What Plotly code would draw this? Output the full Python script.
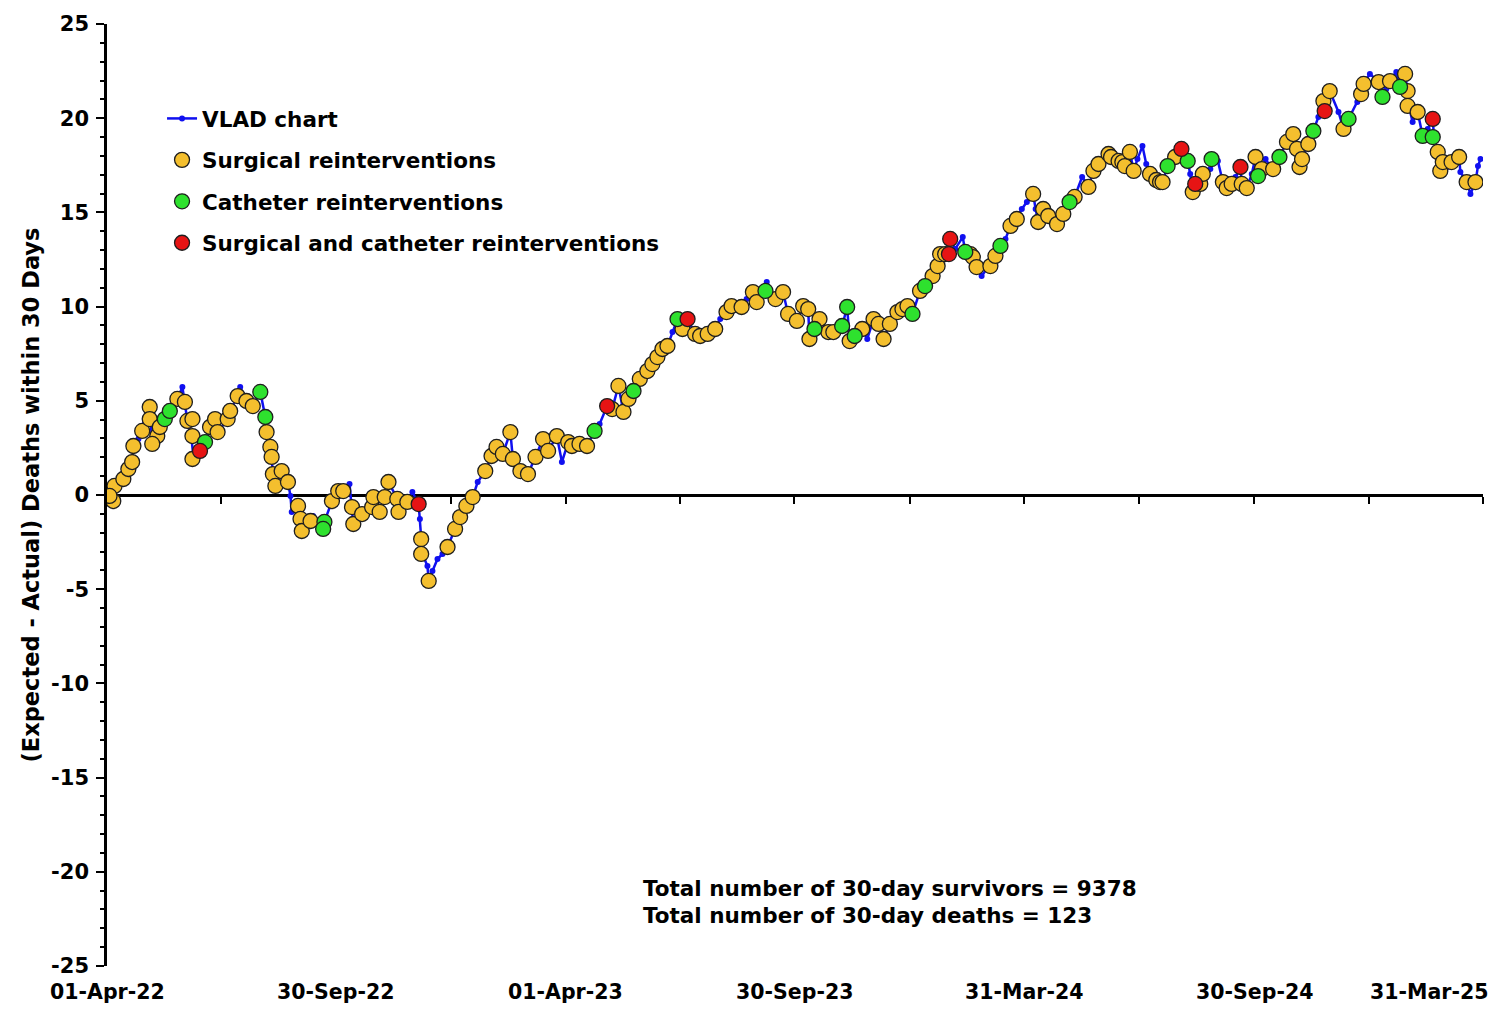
import pandas as pd
import plotly.graph_objects as go

# ---------------- data ----------------
START = "2022-04-01"

# VLAD curve: days since 01-Apr-22, cumulative (expected - actual) deaths
vlad_day = [0, 2, 5, 6, 9, 13, 17, 20, 21, 25, 28, 30, 34, 36, 40, 42, 46, 50, 56, 60,
            62, 64, 67, 69, 74, 78, 82, 86, 88, 96, 98, 104, 106, 111, 116, 122, 126, 127, 130, 131,
            132, 134, 139, 144, 146, 147, 152, 154, 155, 162, 164, 172, 173, 179, 184, 188, 193, 195, 196, 203,
            211, 212, 217, 221, 224, 231, 232, 239, 243, 248, 249, 250, 251, 255, 256, 259, 263, 267, 271, 277,
            281, 286, 291, 295, 301, 306, 310, 315, 321, 323, 329, 335, 341, 347, 351, 358, 362, 367, 370, 376,
            382, 388, 392, 398, 402, 407, 411, 415, 419, 424, 430, 434, 438, 442, 446, 450, 454, 458, 462, 468,
            472, 478, 484, 488, 493, 497, 505, 509, 514, 517, 524, 525, 532, 538, 542, 549, 554, 558, 559, 563,
            567, 574, 578, 585, 589, 591, 595, 601, 605, 610, 614, 618, 623, 629, 633, 637, 641, 647, 651, 657,
            661, 663, 667, 670, 671, 675, 681, 683, 687, 689, 692, 696, 700, 703, 707, 711, 715, 719, 724, 728,
            732, 737, 739, 741, 745, 749, 753, 756, 761, 765, 766, 770, 776, 781, 785, 789, 793, 797, 799, 805,
            808, 810, 814, 817, 820, 824, 827, 830, 835, 838, 840, 844, 847, 850, 855, 858, 860, 862, 864, 866,
            870, 872, 878, 879, 884, 888, 891, 895, 898, 902, 903, 907, 911, 914, 916, 919, 922, 926, 928, 933,
            939, 944, 947, 949, 951, 956, 960, 964, 968, 969, 973, 980, 984, 988, 995, 998, 1000, 1005, 1012, 1015,
            1018, 1021, 1026, 1029, 1033, 1035, 1036, 1039, 1043, 1047, 1051, 1055, 1056, 1059, 1061, 1063, 1067, 1070, 1076, 1077,
            1082, 1085, 1089, 1091, 1093]
vlad_value = [0.00, -0.21, 0.32, 0.48, 0.74, 0.85, 1.38, 1.75, 2.60, 2.97, 3.40, 3.77, 4.67, 2.71, 3.13, 3.61, 4.03, 4.46, 5.10, 5.73,
              4.94, 3.93, 3.13, 1.91, 2.34, 2.81, 3.61, 4.03, 3.34, 4.03, 4.46, 5.25, 5.73, 4.99, 4.72, 5.47, 4.14, 3.34, 2.55, 2.02,
              1.11, 0.48, 1.27, 0.69, -0.05, -0.90, -0.58, -1.27, -1.91, -1.38, -1.11, -1.80, -1.43, -0.32, 0.21, 0.21, 0.58, -0.64, -1.54, -1.01,
              -0.64, -0.11, -0.90, -0.11, 0.69, -0.21, -0.90, -0.37, 0.16, -0.48, -1.27, -2.34, -3.13, -3.77, -4.56, -4.03, -3.40, -3.13, -2.76, -1.80,
              -1.17, -0.58, -0.11, 0.69, 1.27, 2.07, 2.55, 2.18, 3.34, 1.91, 1.27, 1.11, 2.02, 2.97, 2.34, 3.13, 1.75, 2.81, 2.60, 2.71,
              2.60, 3.40, 3.77, 4.72, 4.56, 5.79, 4.41, 5.10, 5.52, 6.16, 6.58, 6.95, 7.32, 7.75, 7.91, 8.65, 9.34, 8.81, 9.34, 8.55,
              8.44, 8.55, 8.81, 9.34, 9.71, 10.03, 9.98, 10.40, 10.77, 10.24, 10.83, 11.31, 10.40, 10.77, 9.61, 9.24, 10.03, 9.87, 8.28, 8.81,
              9.34, 8.65, 8.65, 8.97, 9.98, 8.17, 8.44, 8.81, 8.28, 9.34, 9.08, 8.28, 9.08, 9.71, 9.87, 10.03, 9.61, 10.83, 11.09, 11.62,
              12.15, 12.79, 12.79, 12.79, 13.59, 13.06, 13.69, 12.90, 12.79, 12.63, 12.10, 11.62, 12.00, 12.15, 12.69, 13.22, 13.59, 14.28, 14.65, 15.18,
              15.55, 15.98, 15.18, 14.49, 15.18, 14.81, 14.65, 14.38, 14.92, 15.45, 15.55, 15.82, 16.88, 16.35, 17.20, 17.57, 17.83, 18.10, 17.94, 17.73,
              17.67, 17.46, 18.21, 17.20, 17.83, 18.52, 17.57, 17.04, 16.72, 16.61, 16.61, 17.46, 17.46, 17.94, 18.37, 18.26, 17.73, 17.04, 16.08, 16.51,
              16.51, 17.04, 17.30, 17.83, 17.73, 16.61, 16.29, 16.51, 16.88, 17.41, 16.51, 16.29, 17.04, 17.94, 16.93, 17.30, 17.83, 17.41, 17.30, 17.94,
              18.74, 19.16, 18.37, 17.41, 17.83, 18.63, 19.32, 20.06, 20.91, 20.38, 21.44, 20.33, 19.43, 19.96, 20.86, 21.28, 21.82, 22.35, 21.92, 21.13,
              21.55, 21.97, 22.45, 21.66, 22.35, 21.44, 20.65, 19.80, 20.33, 19.06, 19.43, 19.96, 19.00, 18.21, 17.20, 17.67, 17.41, 17.67, 17.94, 17.14,
              16.61, 15.98, 16.61, 17.46, 17.83]

# Surgical reinterventions
surg_day = [5, 6, 2, 13, 17, 20, 21, 28, 34, 34, 40, 36, 42, 56, 62, 64, 68, 68, 68, 82,
            86, 88, 96, 98, 104, 111, 116, 127, 130, 131, 132, 139, 134, 144, 152, 154, 155, 162, 179, 184,
            188, 195, 196, 203, 211, 212, 217, 221, 224, 231, 232, 239, 250, 250, 256, 271, 277, 281, 286, 291,
            301, 306, 310, 315, 321, 323, 329, 335, 341, 347, 351, 358, 367, 370, 376, 382, 402, 407, 411, 415,
            424, 430, 434, 438, 442, 446, 458, 468, 472, 478, 484, 493, 497, 505, 514, 517, 532, 538, 542, 549,
            554, 558, 559, 567, 574, 578, 591, 601, 610, 614, 618, 623, 629, 633, 637, 647, 657, 661, 663, 667,
            687, 689, 692, 703, 707, 719, 724, 737, 741, 745, 749, 756, 761, 770, 781, 785, 789, 797, 799, 805,
            808, 810, 814, 817, 830, 835, 838, 840, 850, 864, 870, 872, 888, 891, 895, 903, 907, 914, 919, 928,
            939, 944, 947, 949, 951, 956, 968, 973, 984, 998, 1000, 1012, 1021, 1033, 1035, 1035, 1043, 1059, 1061, 1063,
            1070, 1076, 1082, 1089]
surg_value = [-0.32, 0.48, -0.05, 0.85, 1.38, 1.75, 2.60, 3.40, 4.67, 4.03, 3.13, 2.71, 3.61, 5.10, 4.94, 3.93, 4.03, 3.13, 1.91, 3.61,
              4.03, 3.34, 4.03, 4.46, 5.25, 4.99, 4.72, 3.34, 2.55, 2.02, 1.11, 1.27, 0.48, 0.69, -0.58, -1.27, -1.91, -1.38, -0.32, 0.21,
              0.21, -0.64, -1.54, -1.01, -0.64, -0.11, -0.90, -0.11, 0.69, -0.21, -0.90, -0.37, -2.34, -3.13, -4.56, -2.76, -1.80, -1.17, -0.58, -0.11,
              1.27, 2.07, 2.55, 2.18, 3.34, 1.91, 1.27, 1.11, 2.02, 2.97, 2.34, 3.13, 2.81, 2.60, 2.71, 2.60, 4.56, 5.79, 4.41, 5.10,
              6.16, 6.58, 6.95, 7.32, 7.75, 7.91, 8.81, 8.55, 8.44, 8.55, 8.81, 9.71, 10.03, 9.98, 10.77, 10.24, 10.40, 10.77, 9.61, 9.24,
              10.03, 9.87, 8.28, 9.34, 8.65, 8.65, 8.17, 8.81, 9.34, 9.08, 8.28, 9.08, 9.71, 9.87, 10.03, 10.83, 11.62, 12.15, 12.79, 12.79,
              12.79, 12.63, 12.10, 12.15, 12.69, 14.28, 14.65, 15.98, 14.49, 15.18, 14.81, 14.38, 14.92, 15.82, 16.35, 17.20, 17.57, 18.10, 17.94, 17.73,
              17.67, 17.46, 18.21, 17.20, 17.04, 16.72, 16.61, 16.61, 17.94, 16.08, 16.51, 17.04, 16.61, 16.29, 16.51, 16.51, 16.29, 17.94, 17.30, 17.30,
              18.74, 19.16, 18.37, 17.41, 17.83, 18.63, 20.91, 21.44, 19.43, 21.28, 21.82, 21.92, 21.97, 22.35, 21.44, 20.65, 20.33, 18.21, 17.20, 17.67,
              17.67, 17.94, 16.61, 16.61]

# Catheter reinterventions
cath_day = [46, 50, 78, 122, 126, 173, 172, 388, 419, 454, 524, 563, 585, 589, 595, 641, 651, 683, 711, 766,
            844, 860, 879, 916, 933, 960, 988, 1015, 1029, 1047, 1055]
cath_value = [4.03, 4.46, 2.81, 5.47, 4.14, -1.43, -1.80, 3.40, 5.52, 9.34, 10.83, 8.81, 8.97, 9.98, 8.44, 9.61, 11.09, 12.90, 13.22, 15.55,
              17.46, 17.73, 17.83, 16.93, 17.94, 19.32, 19.96, 21.13, 21.66, 19.06, 19.00]

# Surgical and catheter reinterventions
both_day = [74, 248, 398, 462, 670, 671, 855, 866, 902, 969, 1055]
both_value = [2.34, -0.48, 4.72, 9.34, 12.79, 13.59, 18.37, 16.51, 17.41, 20.38, 19.96]

# axis ticks / labels
x_tick_days = [0, 91, 182, 274, 365, 456, 547, 639, 730, 821, 913, 1004, 1095]
x_label_days = [0, 182, 365, 547, 730, 913, 1095]
x_labels = ["01-Apr-22", "30-Sep-22", "01-Apr-23", "30-Sep-23", "31-Mar-24", "30-Sep-24", "31-Mar-25"]
y_tick_values = [-25, -20, -15, -10, -5, 0, 5, 10, 15, 20, 25]
y_tick_text = ["-25", "-20", "-15", "-10", "-5", "0", "5", "10", "15", "20", "25"]

survivors = 9378
deaths = 123

# ---------------- helpers ----------------
t0 = pd.Timestamp(START)


def to_dates(days):
    return [t0 + pd.Timedelta(days=int(d)) for d in days]


FONT = "DejaVu Sans"
BLUE = "#1010F0"
YELLOW = "#F4BF2E"
GREEN = "#2EE12E"
RED = "#E61414"
EDGE = "#1E1E1E"

fig = go.Figure()

fig.add_trace(go.Scatter(
    x=to_dates(vlad_day), y=vlad_value, mode="lines+markers", name="VLAD chart",
    line=dict(color=BLUE, width=2.5), marker=dict(color=BLUE, size=6),
    legendgroup="a"))

for name, days, vals, col, grp in [
        ("Surgical reinterventions", surg_day, surg_value, YELLOW, "b"),
        ("Catheter reinterventions", cath_day, cath_value, GREEN, "c"),
        ("Surgical and catheter reinterventions", both_day, both_value, RED, "d")]:
    fig.add_trace(go.Scatter(
        x=to_dates(days), y=vals, mode="markers", name=name, legendgroup=grp,
        marker=dict(color=col, size=15, line=dict(color=EDGE, width=1.3))))

# x tick labels along the bottom edge of the plot
for d, lab in zip(x_label_days, x_labels):
    last = d == x_label_days[-1]
    fig.add_annotation(
        x=to_dates([d])[0], xref="x", y=-0.0424, yref="paper",
        text=lab, showarrow=False,
        xanchor="right" if last else "center", yanchor="bottom",
        xshift=7 if last else 0,
        font=dict(family=FONT, size=20.5, color="black", weight="bold"))

for i, line in enumerate([f"Total number of 30-day survivors = {survivors}",
                          f"Total number of 30-day deaths = {deaths}"]):
    fig.add_annotation(
        x=0.388, xref="paper", y=0.0828 - i * 0.0297, yref="paper",
        text=line, showarrow=False, xanchor="left", yanchor="middle",
        font=dict(family=FONT, size=21.5, color="black", weight="bold"))

fig.update_layout(
    width=1483, height=998,
    margin=dict(l=99, r=8, t=16, b=40),
    paper_bgcolor="white", plot_bgcolor="white",
    showlegend=True,
    legend=dict(x=0.040, y=0.9215, xanchor="left", yanchor="top",
                bgcolor="rgba(0,0,0,0)", tracegroupgap=10.5,
                font=dict(family=FONT, size=21.5, color="black", weight="bold")),
    xaxis=dict(
        type="date",
        range=to_dates([x_tick_days[0], x_tick_days[-1]]),
        anchor="free", position=0.5,
        showgrid=False, zeroline=False,
        showline=True, linecolor="black", linewidth=3,
        tickmode="array", tickvals=to_dates(x_tick_days),
        ticks="outside", ticklen=7, tickwidth=2, tickcolor="black",
        showticklabels=False, layer="below traces"),
    yaxis=dict(
        range=[-25, 25], tickmode="array", tickvals=y_tick_values, ticktext=y_tick_text,
        showgrid=False, zeroline=False,
        showline=True, linecolor="black", linewidth=2.5,
        ticks="outside", ticklen=8, tickwidth=2, tickcolor="black",
        minor=dict(dtick=1, ticks="outside", ticklen=4, tickwidth=1.5, tickcolor="black"),
        tickfont=dict(family=FONT, size=21, color="black", weight="bold"),
        ticklabelstandoff=3,
        title=dict(text="(Expected - Actual) Deaths within 30 Days", standoff=6,
                   font=dict(family=FONT, size=22.5, color="black", weight="bold")),
        automargin=False),
)

fig.write_html("out.html")
